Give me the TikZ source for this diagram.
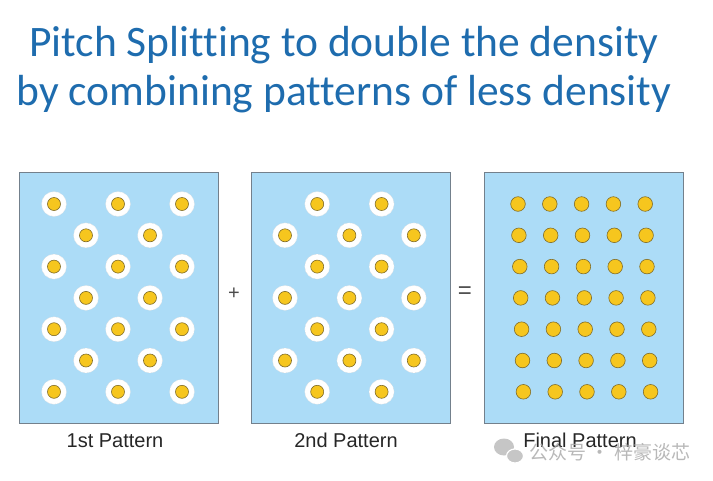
\documentclass[tikz,border=0pt]{standalone}
\usepackage{fontspec}
\setmainfont{Liberation Sans}
\newfontfamily\titlefont[Ligatures={NoCommon}]{Carlito}
\newfontfamily\cjkfont{Noto Sans CJK SC}
\usetikzlibrary{positioning}

\definecolor{titleblue}{RGB}{30,108,174}
\definecolor{panelblue}{RGB}{172,220,247}
\definecolor{panelgray}{RGB}{115,128,140}
\definecolor{dotyellow}{RGB}{246,198,30}
\definecolor{dotrim}{RGB}{128,108,40}

\begin{document}
\begin{tikzpicture}[
    x=1pt, y=-1pt,
    panel/.style={draw=panelgray, fill=panelblue, line width=1pt, anchor=north west, minimum width=199pt, minimum height=251pt, inner sep=0pt},
    halo/.style={circle, fill=white, draw=gray!30, densely dotted, line width=0.5pt, minimum size=25pt, inner sep=0pt},
    dot/.style={circle, fill=dotyellow, draw=dotrim, line width=0.6pt, minimum size=13pt, inner sep=0pt},
    bigdot/.style={dot, minimum size=14.6pt},
    caption/.style={font=\fontsize{20}{22}\selectfont, text=black!85, anchor=base},
    title/.style={font=\titlefont\fontsize{43.5}{50}\selectfont, text=titleblue, anchor=base},
    op/.style={font=\fontsize{20}{24}\selectfont, text=black!70}
  ]
    \useasboundingbox (0,0) rectangle (713,480);

    % heading
    \node[title] (head1) at (344,56) {Pitch Splitting to double the density};
    \node[title] (head2) at (344,105) {by combining patterns of less density};

    % the three masks
    \node[panel] (first) at (19,172) {};
    \node[panel] (second) at (251,172) {};
    \node[panel] (final) at (484,172) {};

    % holes of the two split patterns
    \foreach \r in {0,...,6}
      \foreach \c in {0,...,4} {
        \pgfmathtruncatemacro{\odd}{mod(\r+\c,2)}
        \ifnum\odd=0
          \node[halo] (h1-\r-\c) at (54+32*\c, 204+31.3*\r) {};
          \node[dot] (d1-\r-\c) at (h1-\r-\c.center) {};
        \else
          \node[halo] (h2-\r-\c) at (285+32.2*\c, 204+31.3*\r) {};
          \node[dot] (d2-\r-\c) at (h2-\r-\c.center) {};
        \fi
        \node[bigdot] (d3-\r-\c) at (518+31.8*\c+0.9*\r, 204+31.3*\r) {};
      }

    \node[op] (plus) at (234,294) {+};
    \node[op, font=\fontsize{24}{28}\selectfont] (equals) at (465,293) {=};

    \node[caption] (cap1) at (115,447) {1st Pattern};
    \node[caption] (cap2) at (346,447) {2nd Pattern};
    \node[caption] (cap3) at (580,447) {Final Pattern};

    % watermark
    \fill[gray!45] (504,447) ellipse [x radius=10, y radius=8.5];
    \filldraw[fill=gray!45, draw=white, line width=1.2pt] (515,456) ellipse [x radius=8.5, y radius=7];
    \node[font=\cjkfont\fontsize{19}{22}\selectfont, text=gray!65, opacity=0.85, anchor=west] (mark) at (526,452) {公众号 · 梓豪谈芯};
\end{tikzpicture}
\end{document}
